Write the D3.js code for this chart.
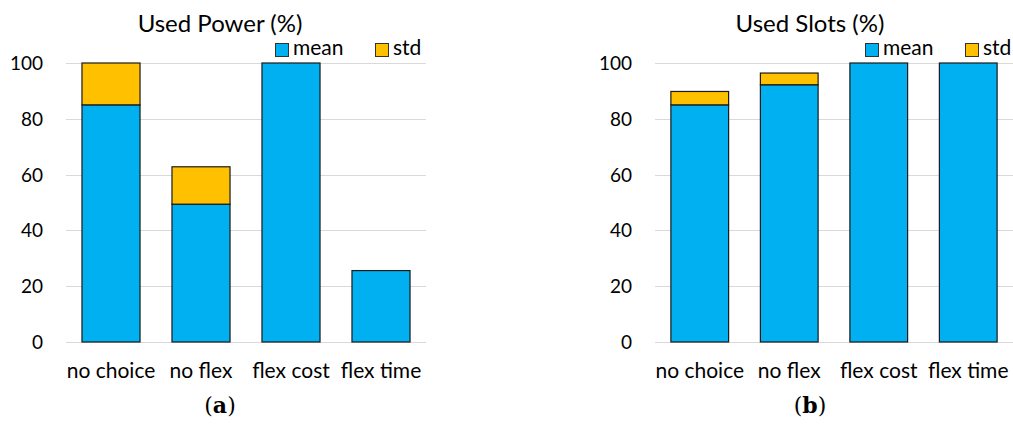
<!DOCTYPE html>
<html>
<head>
<meta charset="utf-8">
<script src="https://cdn.jsdelivr.net/npm/d3@7"></script>
<style>
  body { margin: 0; background: #fff; }
  text { font-family: Lato, "Open Sans", sans-serif; fill: #000; }
</style>
</head>
<body>
<div id="chart"></div>
<script>
const categories = ['no choice', 'no flex', 'flex cost', 'flex time'];
const powerMean = [85, 49.4, 100, 25.6];
const powerStd = [15, 13.4, 0, 0];
const slotsMean = [85, 92.2, 100, 100];
const slotsStd = [4.8, 4.2, 0, 0];
const yTicks = [0, 20, 40, 60, 80, 100];
const seriesNames = ['mean', 'std'];
const colors = {mean: '#00B0F0', std: '#FFC000'};

var width = 1013, height = 424;

var svg = d3.select('#chart')
  .append('svg')
  .attr('width', width)
  .attr('height', height);

function drawPanel(p) {
  var x = d3.scaleBand()
    .domain(categories)
    .range([p.left, p.right])
    .paddingInner(0.355)
    .paddingOuter(0.1775);

  var y = d3.scaleLinear()
    .domain([0, 100])
    .range([342, 63]);

  var g = svg.append('g');

  // gridlines
  g.selectAll('.grid')
    .data(yTicks)
    .enter()
    .append('line')
      .attr('x1', p.left)
      .attr('x2', p.right)
      .attr('y1', d => Math.round(y(d)) + 0.5)
      .attr('y2', d => Math.round(y(d)) + 0.5)
      .style('stroke', '#d9d9d9')
      .style('stroke-width', 1);

  // y labels
  g.selectAll('.ytick')
    .data(yTicks)
    .enter()
    .append('text')
      .attr('x', p.left - 23)
      .attr('y', d => y(d) + 7)
      .attr('text-anchor', 'end')
      .style('font-size', '19px')
      .text(d => d);

  var data = categories.map((c, i) => ({cat: c, mean: p.mean[i], std: p.std[i]}));

  // mean bars
  g.selectAll('.mean')
    .data(data)
    .enter()
    .append('rect')
      .attr('x', d => x(d.cat))
      .attr('y', d => y(d.mean))
      .attr('width', x.bandwidth())
      .attr('height', d => y(0) - y(d.mean))
      .style('fill', colors.mean)
      .style('stroke', '#1a1a1a')
      .style('stroke-width', 1.2);

  // std on top
  g.selectAll('.std')
    .data(data.filter(d => d.std > 0))
    .enter()
    .append('rect')
      .attr('x', d => x(d.cat))
      .attr('y', d => y(d.mean + d.std))
      .attr('width', x.bandwidth())
      .attr('height', d => y(d.mean) - y(d.mean + d.std))
      .style('fill', colors.std)
      .style('stroke', '#1a1a1a')
      .style('stroke-width', 1.2);

  // category labels
  g.selectAll('.xlab')
    .data(categories)
    .enter()
    .append('text')
      .attr('x', d => x(d) + x.bandwidth() / 2)
      .attr('y', 378)
      .attr('text-anchor', 'middle')
      .style('font-size', '21px')
      .text(d => d);

  // title
  g.append('text')
    .attr('x', p.center)
    .attr('y', 32)
    .attr('text-anchor', 'middle')
    .style('font-size', '24px')
    .text(p.title);

  // legend
  var leg = g.selectAll('.leg')
    .data(seriesNames)
    .enter()
    .append('g')
      .attr('transform', (d, i) => 'translate(' + (p.center + 55 + i * 100) + ',43)');
  leg.append('rect')
    .attr('x', 0.5)
    .attr('y', 0.5)
    .attr('width', 13)
    .attr('height', 13)
    .style('fill', d => colors[d])
    .style('stroke', '#333')
    .style('stroke-width', 1);
  leg.append('text')
    .attr('x', 18)
    .attr('y', 12)
    .style('font-size', '21px')
    .text(d => d);

  // caption
  var cap = g.append('text')
    .attr('x', p.center)
    .attr('y', 413)
    .attr('text-anchor', 'middle')
    .style('font-family', '"DejaVu Serif", serif')
    .style('font-size', '22px');
  cap.append('tspan').text('(');
  cap.append('tspan').style('font-weight', 'bold').text(p.letter);
  cap.append('tspan').text(')');
}

drawPanel({left: 66, right: 426, center: 220, title: 'Used Power (%)', mean: powerMean, std: powerStd, letter: 'a'});
drawPanel({left: 655, right: 1013, center: 810, title: 'Used Slots (%)', mean: slotsMean, std: slotsStd, letter: 'b'});
</script>
</body>
</html>
